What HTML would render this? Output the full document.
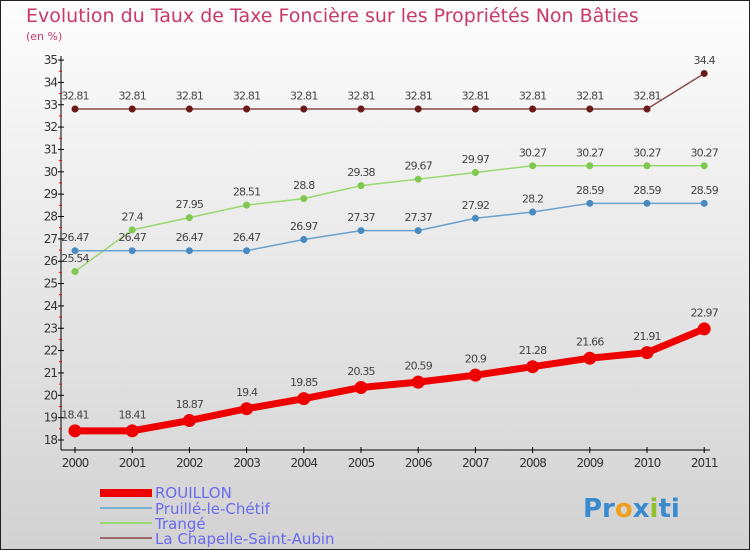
<!DOCTYPE html>
<html><head><meta charset="utf-8"><style>
body{margin:0}
svg{display:block;font-family:"DejaVu Sans","Liberation Sans",sans-serif}
</style></head><body>
<svg width="750" height="550" xmlns="http://www.w3.org/2000/svg">
<defs><linearGradient id="bg" x1="0" y1="0" x2="0" y2="1"><stop offset="0" stop-color="#fdfdfd"/><stop offset="1" stop-color="#d2d2d2"/></linearGradient></defs>
<rect x="0.5" y="0.5" width="749" height="549" fill="url(#bg)" stroke="#222"/>
<text x="26" y="22" font-size="19" fill="#c8386a">Evolution du Taux de Taxe Foncière sur les Propriétés Non Bâties</text>
<text x="26" y="40" font-size="11" fill="#c8386a">(en %)</text>
<g id="axes"></g>
<g id="series"></g>
<g>
<rect x="100" y="489" width="52" height="8" fill="#e00"/>
<text x="155" y="498" font-size="15" fill="#6a6af0">ROUILLON</text>
<rect x="100" y="507" width="52" height="2" fill="#7ab0d0"/>
<text x="155" y="514" font-size="15" fill="#6a6af0">Pruillé-le-Chétif</text>
<rect x="100" y="522" width="52" height="2" fill="#9ad870"/>
<text x="155" y="529" font-size="15" fill="#6a6af0">Trangé</text>
<rect x="100" y="537" width="52" height="2" fill="#9a6a6a"/>
<text x="155" y="544" font-size="15" fill="#6a6af0">La Chapelle-Saint-Aubin</text>
</g>
<g font-size="26" font-weight="bold">
<text x="583" y="517"><tspan fill="#3a8ad0">Pr</tspan><tspan fill="#f0a020">o</tspan><tspan fill="#3a8ad0">x</tspan><tspan fill="#90c030">i</tspan><tspan fill="#3a8ad0">ti</tspan></text>
</g>
</svg>
<script>
const years=["2000","2001","2002","2003","2004","2005","2006","2007","2008","2009","2010","2011"];
const rouillon=[18.41,18.41,18.87,19.4,19.85,20.35,20.59,20.9,21.28,21.66,21.91,22.97];
const pruille=[26.47,26.47,26.47,26.47,26.97,27.37,27.37,27.92,28.2,28.59,28.59,28.59];
const trange=[25.54,27.4,27.95,28.51,28.8,29.38,29.67,29.97,30.27,30.27,30.27,30.27];
const chapelle=[32.81,32.81,32.81,32.81,32.81,32.81,32.81,32.81,32.81,32.81,32.81,34.4];
const yTicks=[18,19,20,21,22,23,24,25,26,27,28,29,30,31,32,33,34,35];
const NS="http://www.w3.org/2000/svg";
const x=i=>75+i*57.2;
const y=v=>440-(v-18)*22.35;
function mk(tag,attrs,parent){const e=document.createElementNS(NS,tag);for(const k in attrs)e.setAttribute(k,attrs[k]);parent.appendChild(e);return e;}
const ax=document.getElementById('axes');
let l=mk('line',{x1:61,y1:56,x2:61,y2:450,stroke:'#000'},ax);


l=mk('line',{x1:61,y1:450,x2:710,y2:450,stroke:'#000'},ax);


yTicks.forEach(t=>{
 const yy=y(t);
 mk('line',{x1:58,y1:yy,x2:64,y2:yy,stroke:'#000'},ax);
 if(t<35)mk('line',{x1:59,y1:yy-11.2,x2:62,y2:yy-11.2,stroke:'#e00'},ax);
 const tx=mk('text',{x:57,y:yy+4,'font-size':12,'text-anchor':'end',fill:'#333','letter-spacing':'-1'},ax);
 tx.textContent=t;
 
 
});
years.forEach((yr,i)=>{
 mk('line',{x1:x(i),y1:447,x2:x(i),y2:453,stroke:'#000'},ax);
 const tx=mk('text',{x:x(i),y:467,'font-size':12,'text-anchor':'middle',fill:'#333','letter-spacing':'-1'},ax);
 tx.textContent=yr;
 
 
});
const sg=document.getElementById('series');
function series(name,data,color,w,r,lbl){
 const g=mk('g',{},sg);
 
 
 const p=mk('polyline',{points:data.map((v,i)=>x(i)+','+y(v)).join(' '),fill:'none',stroke:color,'stroke-width':w,'stroke-linejoin':'round'},g);
 
 
 data.forEach((v,i)=>{
  const c=mk('circle',{cx:x(i),cy:y(v),r:r,fill:lbl},g);
  
  
  const t=mk('text',{x:x(i),y:y(v)-(r+6),'font-size':11,'text-anchor':'middle',fill:'#444','letter-spacing':'-0.8'},g);
  t.textContent=v;
  
  
 });
}
series('chapelle',chapelle,'#8a4a4a',1.5,3.5,'#6a1a1a');
series('trange',trange,'#9ad870',1.5,3.5,'#80c850');
series('pruille',pruille,'#6aa0cc',1.5,3.5,'#4a8ac0');
series('rouillon',rouillon,'#e00',7,6.5,'#e00');
</script>
</body></html>
